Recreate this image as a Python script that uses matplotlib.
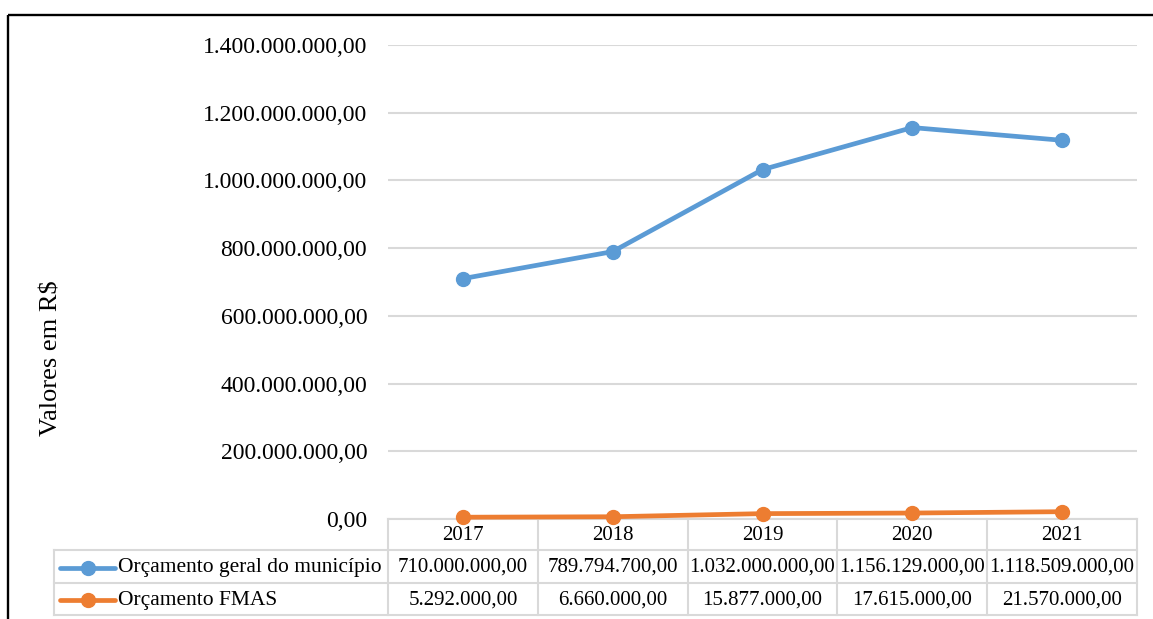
import matplotlib
matplotlib.use("Agg")
import matplotlib.pyplot as plt
from matplotlib.lines import Line2D

# Data
years = ["2017", "2018", "2019", "2020", "2021"]
series_names = ["Orçamento geral do município", "Orçamento FMAS"]
orcamento_geral = [710000000, 789794700, 1032000000, 1156129000, 1118509000]
orcamento_fmas = [5292000, 6660000, 15877000, 17615000, 21570000]
series_values = [orcamento_geral, orcamento_fmas]
series_colors = ["#5b9bd5", "#ed7d31"]
y_ticks = [0, 200000000, 400000000, 600000000, 800000000, 1000000000, 1200000000, 1400000000]
y_label = "Valores em R$"


def br_format(v):
    s = f"{v:,.2f}"
    return s.replace(",", "#").replace(".", ",").replace("#", ".")


plt.rcParams["font.family"] = ["Liberation Serif", "DejaVu Serif"]

W, H, DPI = 1153, 619, 100
fig = plt.figure(figsize=(W / DPI, H / DPI), dpi=DPI)

# Layout in pixels
plot_left, plot_right = 388, 1137
plot_top, plot_bottom = 45, 519
row_lines = [519, 550, 583, 615]
legend_left = 54
grid_color = "#d9d9d9"

ax = fig.add_axes([plot_left / W, 1 - plot_bottom / H,
                   (plot_right - plot_left) / W, (plot_bottom - plot_top) / H])
x = list(range(len(years)))
for vals, color in zip(series_values, series_colors):
    ax.plot(x, vals, color=color, lw=3.4, marker="o", ms=10,
            solid_capstyle="round", clip_on=False, zorder=3)

ax.set_xlim(-0.5, len(years) - 0.5)
ax.set_ylim(y_ticks[0], y_ticks[-1])
ax.set_yticks(y_ticks)
ax.set_yticklabels([br_format(v) for v in y_ticks], fontsize=17)
ax.tick_params(axis="y", length=0, pad=15)
ax.set_xticks([])
ax.grid(axis="y", color=grid_color, lw=1.5, zorder=0)
for sp in ax.spines.values():
    sp.set_visible(False)
ax.set_facecolor("none")

# Overlay in pixel coordinates for the data table and frame
ov = fig.add_axes([0, 0, 1, 1], zorder=-1)
ov.set_xlim(0, W)
ov.set_ylim(H, 0)
ov.axis("off")

col_w = (plot_right - plot_left) / len(years)
col_edges = [plot_left + i * col_w for i in range(len(years) + 1)]

# horizontal table lines
ov.plot([plot_left, plot_right], [row_lines[0]] * 2, color=grid_color, lw=1.5)
for yy in row_lines[1:]:
    ov.plot([legend_left, plot_right], [yy, yy], color=grid_color, lw=1.5)
# vertical table lines
ov.plot([legend_left, legend_left], [row_lines[1], row_lines[-1]], color=grid_color, lw=1.5)
for xx in col_edges:
    ov.plot([xx, xx], [row_lines[0], row_lines[-1]], color=grid_color, lw=1.5)

fs_table = 15
# header row
for i, yr in enumerate(years):
    ov.text(col_edges[i] + col_w / 2, (row_lines[0] + row_lines[1]) / 2 + 1, yr,
            ha="center", va="center", fontsize=fs_table)

# series rows
for r, (name, vals, color) in enumerate(zip(series_names, series_values, series_colors)):
    yc = (row_lines[r + 1] + row_lines[r + 2]) / 2 + 1
    ov.add_line(Line2D([60, 115], [yc, yc], color=color, lw=3.4, solid_capstyle="round"))
    ov.plot([87.5], [yc], marker="o", ms=10, color=color)
    ov.text(118, yc, name, ha="left", va="center", fontsize=15.5)
    for i, v in enumerate(vals):
        ov.text(col_edges[i] + col_w / 2, yc, br_format(v),
                ha="center", va="center", fontsize=fs_table)

# Y axis title
ov.text(52, 358, y_label, rotation=90, ha="center", va="center", fontsize=19)

# outer frame (top and left edges)
ov.plot([8, W + 5], [15, 15], color="black", lw=1.7, solid_capstyle="butt")
ov.plot([8, 8], [15, H + 5], color="black", lw=1.7, solid_capstyle="butt")

fig.savefig("out.png", dpi=DPI)
